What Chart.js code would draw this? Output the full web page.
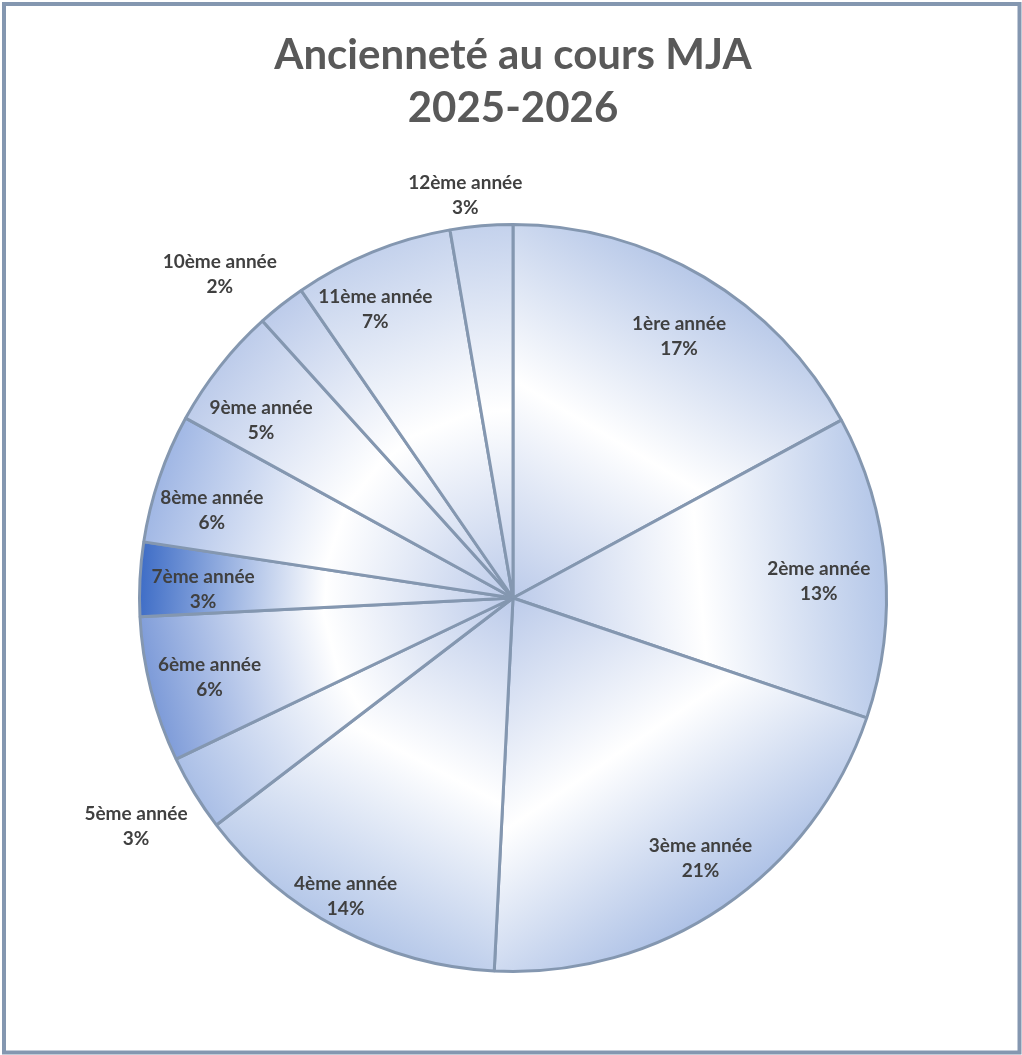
<!DOCTYPE html>
<html lang="fr">

<head>
  <meta charset="UTF-8" />
  <title>Ancienneté au cours MJA</title>
  <script src="https://cdn.jsdelivr.net/npm/chart.js"></script>
  <style>
    html, body { margin: 0; padding: 0; background: #fff; }
    #wrap { width: 1022px; height: 1055px; position: relative; }
  </style>
</head>

<body>
  <div id="wrap">
    <canvas id="ancienneteChart" width="1022" height="1055"></canvas>
  </div>

  <script>
    // données (part en %)
    const annees = ['1ère année', '2ème année', '3ème année', '4ème année', '5ème année', '6ème année',
      '7ème année', '8ème année', '9ème année', '10ème année', '11ème année', '12ème année'];
    const parts = [17.1, 13.1, 20.6, 13.8, 3.3, 6.3, 3.2, 5.6, 5.3, 2.1, 6.9, 2.7];
    const titre = ['Ancienneté au cours MJA', '2025-2026'];

    // couleur du bord extérieur de chaque part (dégradé)
    const couleursBord = ['#b7c8e8', '#b3c6e8', '#adc1e6', '#b3c6e8', '#a9bee6', '#7c9ad8',
      '#3d6cc6', '#9fb6e4', '#bccbea', '#bccbea', '#c3d1ec', '#c3d1ec'];
    // placement des étiquettes : distance (fraction du rayon) et petit décalage d'angle (degrés)
    const distEtiquettes = [0.83, 0.82, 0.86, 0.915, 1.18, 0.84, 0.83, 0.84, 0.825, 1.17, 0.855, 1.085];
    const decalAngle = [1.6, 1.7, -1.5, 1.6, 0.3, -0.5, -1.2, -2.5, -3.2, -3.8, -3.4, -1.9];

    const total = parts.reduce((a, b) => a + b, 0);

    function degradePart(context) {
      const chart = context.chart;
      const area = chart.chartArea;
      if (!area) return '#dae3f3';
      const i = context.dataIndex;
      let cumul = 0;
      for (let k = 0; k < i; k++) cumul += parts[k];
      const milieu = -Math.PI / 2 + (cumul + parts[i] / 2) / total * Math.PI * 2;
      const cx = (area.left + area.right) / 2;
      const cy = (area.top + area.bottom) / 2;
      const r = Math.min(area.width, area.height) / 2;
      const g = chart.ctx.createLinearGradient(cx, cy, cx + Math.cos(milieu) * r, cy + Math.sin(milieu) * r);
      g.addColorStop(0, '#bccbea');
      g.addColorStop(0.5, '#ffffff');
      g.addColorStop(1, couleursBord[i]);
      return g;
    }

    const pluginCadre = {
      id: 'cadre',
      beforeDraw(chart) {
        const ctx = chart.ctx;
        ctx.save();
        ctx.fillStyle = '#ffffff';
        ctx.fillRect(0, 0, chart.width, chart.height);
        ctx.restore();
      },
      afterDraw(chart) {
        const ctx = chart.ctx;
        ctx.save();
        ctx.strokeStyle = '#8497b0';
        ctx.lineWidth = 4;
        ctx.strokeRect(4, 4, chart.width - 6.5, chart.height - 6.5);

        ctx.fillStyle = '#595959';
        ctx.font = 'bold 42px Lato';
        ctx.textAlign = 'center';
        ctx.textBaseline = 'middle';
        ctx.fillText(titre[0], 513, 55);
        ctx.fillText(titre[1], 513, 108);
        ctx.restore();
      }
    };

    const pluginEtiquettes = {
      id: 'etiquettes',
      afterDatasetsDraw(chart) {
        const ctx = chart.ctx;
        const meta = chart.getDatasetMeta(0);
        ctx.save();
        ctx.fillStyle = '#404040';
        ctx.font = 'bold 19px Lato';
        ctx.textAlign = 'center';
        ctx.textBaseline = 'middle';
        meta.data.forEach((arc, i) => {
          const p = arc.getProps(['x', 'y', 'startAngle', 'endAngle', 'outerRadius']);
          const a = (p.startAngle + p.endAngle) / 2 + decalAngle[i] * Math.PI / 180;
          const d = p.outerRadius * distEtiquettes[i];
          const x = p.x + Math.cos(a) * d;
          const y = p.y + Math.sin(a) * d;
          ctx.fillText(annees[i], x, y - 12.5);
          ctx.fillText(Math.round(parts[i] / total * 100) + '%', x, y + 12.5);
        });
        ctx.restore();
      }
    };

    new Chart(document.getElementById('ancienneteChart'), {
      type: 'pie',
      data: {
        labels: annees,
        datasets: [{
          data: parts,
          backgroundColor: degradePart,
          borderColor: '#8497b0',
          borderWidth: 3,
          hoverOffset: 0
        }]
      },
      options: {
        responsive: false,
        animation: false,
        events: [],
        layout: {
          padding: { left: 138, right: 134, top: 223, bottom: 82 }
        },
        plugins: {
          legend: { display: false },
          title: { display: false },
          tooltip: { enabled: false }
        }
      },
      plugins: [pluginCadre, pluginEtiquettes]
    });
  </script>
</body>

</html>
